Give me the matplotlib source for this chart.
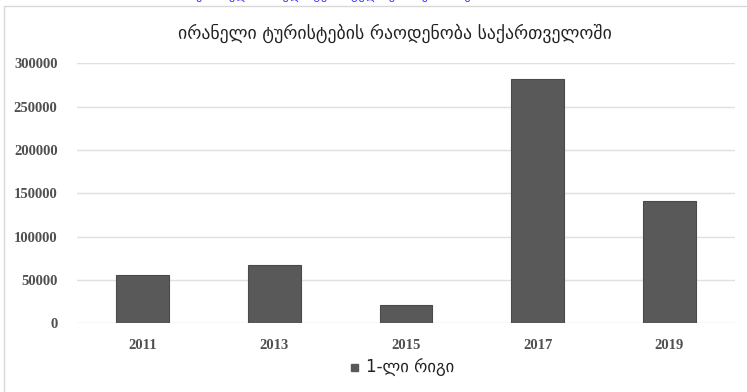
import matplotlib.pyplot as plt
from matplotlib.patches import Rectangle

# Iranian tourist arrivals in Georgia by year
years = ["2011", "2013", "2015", "2017", "2019"]
tourists = [56000, 67000, 21000, 282000, 141000]
y_ticks = [0, 50000, 100000, 150000, 200000, 250000, 300000]

title = "ირანელი ტურისტების რაოდენობა საქართველოში"
series_name = "1-ლი რიგი"

W, H = 747, 392
fig = plt.figure(figsize=(W / 100, H / 100), dpi=100)
fig.patch.set_facecolor("white")

# light frame around the chart area
fig.patches.append(Rectangle((4 / W, -0.05), 1.0, 1 - 6 / H + 0.05,
                             transform=fig.transFigure, fill=False,
                             edgecolor="#d9d9d9", linewidth=1.0))

# link text above the chart, mostly cut off by the top edge
fig.text(196 / W, 1 + 1 / H, "ქართულ-ირანული ტურისტული ურთიერთობები",
         color="#3b3bff", fontsize=9, family="DejaVu Sans",
         ha="left", va="baseline")

ax = fig.add_axes([77 / W, 1 - 323.3 / H, (735 - 77) / W, (323.3 - 63.3) / H])
x = list(range(len(years)))
ax.bar(x, tourists, width=0.4, color="#595959", edgecolor="#4a4a4a",
       linewidth=0.8, zorder=3)

ax.set_xlim(-0.5, len(years) - 0.5)
ax.set_ylim(0, 300000)
ax.set_xticks(x)
ax.set_xticklabels(years)
ax.set_yticks(y_ticks)
ax.set_yticklabels([str(v) for v in y_ticks])
ax.grid(axis="y", color="#e0e0e0", linewidth=1.0, zorder=0)
for side in ["top", "right", "left", "bottom"]:
    ax.spines[side].set_visible(False)
ax.tick_params(axis="both", length=0, labelsize=10.5, labelcolor="#505050")
ax.tick_params(axis="y", pad=14)
ax.tick_params(axis="x", pad=11)
for lbl in ax.get_xticklabels() + ax.get_yticklabels():
    lbl.set_family("Liberation Serif")
    lbl.set_fontweight("bold")

fig.text(395 / W, 1 - 33 / H, title, ha="center", va="center",
         fontsize=12.8, color="#222222", family="DejaVu Sans")

# legend
fig.patches.append(Rectangle((351 / W, 1 - 371 / H), 7 / W, 7 / H,
                             transform=fig.transFigure, color="#595959"))
fig.text(366 / W, 1 - 367 / H, series_name, ha="left", va="center",
         fontsize=12, color="#222222", family="DejaVu Sans")

fig.savefig("out.png", dpi=100)
